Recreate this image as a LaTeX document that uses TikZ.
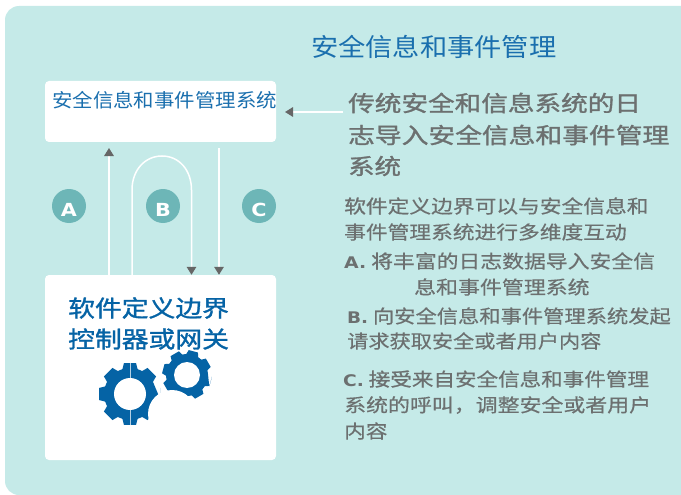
\documentclass[tikz,border=0pt]{standalone}
\usepackage{fontspec}
\usepackage{graphicx}
\setmainfont{Noto Sans CJK SC}
\newfontfamily\fb[FakeBold=1.2]{Noto Sans CJK SC}
\newfontfamily\fm[FakeBold=0.4]{Noto Sans CJK SC}
\newfontfamily\lat[BoldFont={DejaVu Sans Bold}]{DejaVu Sans}
\usetikzlibrary{arrows.meta,calc}
\definecolor{bgc}{HTML}{C5EAE8}
\definecolor{bluet}{HTML}{1A6FAE}
\definecolor{blued}{HTML}{0563A5}
\definecolor{grayt}{HTML}{6C7070}
\definecolor{headc}{HTML}{666666}
\definecolor{circ}{HTML}{6DB6B7}
\newcommand{\gearpath}[5]{% x,y,outer,root,rot
  \fill[blued] ($(#1,#2)+(#5+12:#3)$)
  \foreach \a in {0,45,...,315} {
    -- ($(#1,#2)+(#5+\a-11:#3)$) -- ($(#1,#2)+(#5+\a+11:#3)$)
    -- ($(#1,#2)+(#5+\a+17:#4)$) -- ($(#1,#2)+(#5+\a+28:#4)$)
  } -- cycle;
}
\newcommand{\ltn}[1]{{\lat\bfseries\fontsize{16}{20}\selectfont #1}}
\tikzset{
  panel/.style={fill=white,rounded corners=4pt,draw=none},
  flow/.style={draw=white,line width=1.5pt,-{Triangle[color=headc,length=8pt,width=9.5pt]}},
  badge/.style={circle,fill=circ,minimum size=34pt,inner sep=0pt,text=white},
  tline/.style={anchor=west,inner sep=0pt,text=grayt,font=\fontsize{18.5}{20}\selectfont\fm},
  hline/.style={anchor=west,inner sep=0pt,text=grayt,font=\fontsize{22}{24}\selectfont\fb},
  bline/.style={anchor=west,inner sep=0pt,text=blued,font=\fontsize{23}{25}\selectfont\fb},
}
\begin{document}
\begin{tikzpicture}[x=1pt,y=-1pt]
\useasboundingbox (0,0) rectangle (681,495);
\fill[bgc,rounded corners=14pt] (5,6) rectangle (695,495);
\node[panel,minimum width=231pt,minimum height=61pt,inner sep=0pt] (top) at (160.5,111.5) {};
\node[panel,minimum width=231pt,minimum height=185pt,inner sep=0pt] (bot) at (160.5,367.5) {};
\node[anchor=west,inner sep=0pt,text=bluet,font=\fontsize{25}{27}\selectfont] (title) at (311,47) {\scalebox{1.09}[1]{安全信息和事件管理}};
\node[anchor=west,inner sep=0pt,text=bluet,font=\fontsize{19}{21}\selectfont] (toplabel) at (52,100) {\scalebox{1.075}[1]{安全信息和事件管理系统}};
% connectors
\coordinate (aS) at (bot.north -| 109,0);
\coordinate (aE) at (109,148);
\coordinate (bS) at (bot.north -| 132,0);
\coordinate (bE) at (bot.north -| 191.5,0);
\coordinate (cS) at (219,148);
\coordinate (cE) at (bot.north -| 219,0);
\coordinate (hS) at (343,112);
\coordinate (hE) at (285,112);
\draw[flow] (aS) -- (aE);
\draw[flow] (bS) -- (132,190) .. controls (132,170) and (145,156) .. (162,156) .. controls (179,156) and (191.5,170) .. (191.5,190) -- (bE);
\draw[flow] (cS) -- (cE);
\draw[flow] (hS) -- (hE);
\node[badge] (A) at (69,206) {};
\node[badge] (B) at (163,206) {};
\node[badge] (C) at (259,206) {};
\node[text=white,inner sep=0pt] (Al) at (69,210) {\scalebox{1.15}[1]{\ltn{\fontsize{18}{20}\selectfont A}}};
\node[text=white,inner sep=0pt] (Bl) at (163,210) {\scalebox{1.15}[1]{\ltn{\fontsize{18}{20}\selectfont B}}};
\node[text=white,inner sep=0pt] (Cl) at (259,210) {\scalebox{1.15}[1]{\ltn{\fontsize{18}{20}\selectfont C}}};
\node[bline] (g1) at (68,308) {\scalebox{1.165}[1]{软件定义边界}};
\node[bline] (g2) at (68,339) {\scalebox{1.165}[1]{控制器或网关}};
% gears
\gearpath{130}{394}{31.5}{26}{0}
\gearpath{187}{375}{25}{21}{15}
\fill[white] (130,394) circle (16);
\fill[white] (187,375) circle (13);
\draw[white!70!blued,line width=0.4pt] (130,363) -- (130,378) (130,410) -- (130,425);
\fill[white] (172,414) circle (24);
% right text
\node[hline] (h1) at (348,103) {\scalebox{1.21}[1]{传统安全和信息系统的日}};
\node[hline] (h2) at (348,135) {\scalebox{1.216}[1]{志导入安全信息和事件管理}};
\node[hline] (h3) at (348,166) {\scalebox{1.2}[1]{系统}};
\node[tline] (t1) at (344,206) {\scalebox{1.175}[1]{{\fb 软件}定义边界可以与安全信息和}};
\node[tline] (t2) at (344,232) {\scalebox{1.175}[1]{事件管理系统进行多维度互动}};
\node[tline] (t3) at (344,261) {\scalebox{1.18}[1]{\ltn{A.} {\fb 将}丰富的日志数据导入安全信}};
\node[tline] (t4) at (414,287) {\scalebox{1.185}[1]{息和事件管理系统}};
\node[tline] (t5) at (347,316) {\scalebox{1.15}[1]{\ltn{B.} 向安全信息和事件管理系统发起}};
\node[tline] (t6) at (347,341) {\scalebox{1.145}[1]{请求获取安全或者用户内容}};
\node[tline] (t7) at (343,379) {\scalebox{1.165}[1]{\ltn{C.} {\fb 接受}来自安全信息和事件管理}};
\node[tline] (t8) at (344,405) {\scalebox{1.185}[1]{系统的呼叫，调整安全或者用户}};
\node[tline] (t9) at (344,431) {\scalebox{1.17}[1]{内容}};
\end{tikzpicture}
\end{document}
